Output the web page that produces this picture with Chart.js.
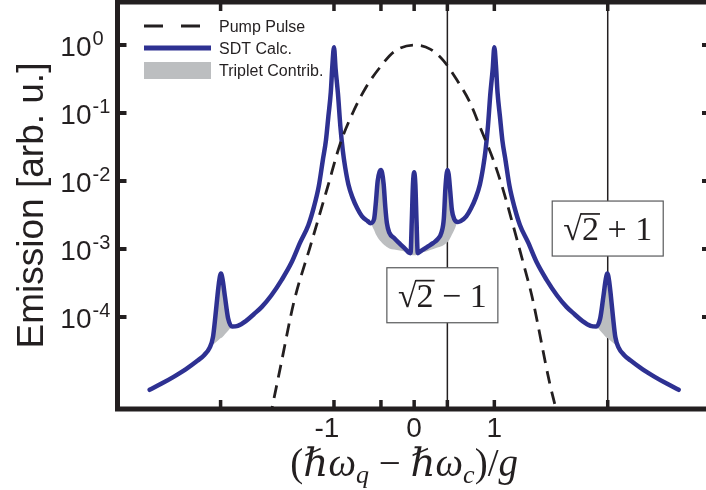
<!DOCTYPE html>
<html>
<head>
<meta charset="utf-8">
<script src="https://cdn.jsdelivr.net/npm/chart.js@4.4.1/dist/chart.umd.min.js"></script>
<style>
  html, body { margin: 0; padding: 0; background: #fff; overflow: hidden; }
  canvas { display: block; }
</style>
</head>
<body>
<canvas id="chart" width="706" height="490"></canvas>
<script>
// datos
const sdtX = [-3.30, -3.15, -3.00, -2.85, -2.70, -2.62, -2.55, -2.51, -2.48, -2.45, -2.43, -2.41, -2.39, -2.36, -2.32, -2.27,
  -2.20, -2.10, -2.00, -1.90, -1.78, -1.65, -1.53, -1.42, -1.32, -1.25, -1.19, -1.14, -1.10, -1.07, -1.04, -1.02,
  -1.00, -0.98, -0.95, -0.92, -0.89, -0.86, -0.82, -0.77, -0.71, -0.65, -0.58, -0.545, -0.50, -0.48, -0.455, -0.43,
  -0.415, -0.40, -0.38, -0.36, -0.34, -0.31, -0.25, -0.18, -0.11, -0.07, -0.045, -0.03, -0.015, 0,
  0.015, 0.03, 0.045, 0.07, 0.16, 0.24, 0.29, 0.34, 0.37, 0.39, 0.415, 0.43, 0.45, 0.47, 0.50, 0.545,
  0.58, 0.65, 0.71, 0.77, 0.82, 0.86, 0.89, 0.92, 0.95, 0.98, 1.00, 1.02, 1.04, 1.07, 1.10, 1.14, 1.19, 1.25,
  1.32, 1.42, 1.53, 1.65, 1.78, 1.90, 2.00, 2.10, 2.20, 2.27, 2.32, 2.36, 2.39, 2.41, 2.43, 2.45, 2.48, 2.51, 2.55, 2.62,
  2.70, 2.85, 3.00, 3.15, 3.30];

const sdtY = [8.5e-6, 1.05e-5, 1.32e-5, 1.70e-5, 2.29e-5, 2.75e-5, 3.55e-5, 5.0e-5, 1.0e-4, 2.24e-4, 3.5e-4, 4.37e-4, 3.6e-4, 2.0e-4, 9.5e-5, 7.24e-5,
  7.41e-5, 8.71e-5, 1.10e-4, 1.41e-4, 2.09e-4, 3.55e-4, 6.31e-4, 1.26e-3, 2.24e-3, 4.17e-3, 8.32e-3, 2.0e-2, 3.98e-2, 8.9e-2, 0.20, 0.50,
  0.93, 0.45, 0.19, 6.3e-2, 2.8e-2, 1.58e-2, 8.9e-3, 5.75e-3, 3.98e-3, 3.02e-3, 2.57e-3, 2.40e-3, 2.75e-3, 4.47e-3, 1.0e-2, 1.38e-2,
  1.45e-2, 1.32e-2, 8.9e-3, 4.17e-3, 2.40e-3, 1.74e-3, 1.45e-3, 1.20e-3, 1.0e-3, 8.9e-4, 8.7e-4, 2.5e-3, 8.9e-3, 1.35e-2,
  8.9e-3, 2.5e-3, 8.7e-4, 9.1e-4, 1.07e-3, 1.23e-3, 1.38e-3, 1.74e-3, 2.8e-3, 7.9e-3, 1.45e-2, 1.26e-2, 7.1e-3, 3.8e-3, 2.75e-3, 2.5e-3,
  2.57e-3, 3.02e-3, 3.98e-3, 5.75e-3, 8.9e-3, 1.58e-2, 2.8e-2, 6.3e-2, 0.19, 0.45, 0.93, 0.50, 0.20, 8.9e-2, 3.98e-2, 2.0e-2, 8.32e-3, 4.17e-3,
  2.24e-3, 1.26e-3, 6.31e-4, 3.55e-4, 2.09e-4, 1.41e-4, 1.10e-4, 8.71e-5, 7.41e-5, 7.24e-5, 9.5e-5, 2.0e-4, 3.6e-4, 4.37e-4, 3.5e-4, 2.24e-4, 1.0e-4, 5.0e-5, 3.55e-5, 2.75e-5,
  2.29e-5, 1.70e-5, 1.32e-5, 1.05e-5, 8.5e-6];

// sin contribucion de tripletes (borde inferior del area gris)
const noTripletY = [8.5e-6, 1.05e-5, 1.32e-5, 1.70e-5, 2.29e-5, 2.75e-5, 3.55e-5, 3.9e-5, 4.17e-5, 4.47e-5, 4.7e-5, 4.9e-5, 5.1e-5, 5.6e-5, 6.3e-5, 7.24e-5,
  7.41e-5, 8.71e-5, 1.10e-4, 1.41e-4, 2.09e-4, 3.55e-4, 6.31e-4, 1.26e-3, 2.24e-3, 4.17e-3, 8.32e-3, 2.0e-2, 3.98e-2, 8.9e-2, 0.20, 0.50,
  0.93, 0.45, 0.19, 6.3e-2, 2.8e-2, 1.58e-2, 8.9e-3, 5.75e-3, 3.98e-3, 3.02e-3, 2.57e-3, 2.40e-3, 1.9e-3, 1.66e-3, 1.48e-3, 1.35e-3,
  1.29e-3, 1.23e-3, 1.17e-3, 1.12e-3, 1.07e-3, 1.02e-3, 9.8e-4, 9.5e-4, 9.1e-4, 8.7e-4, 8.3e-4, 8.2e-4, 8.1e-4, 8.1e-4,
  8.1e-4, 8.2e-4, 8.3e-4, 8.7e-4, 9.3e-4, 1.0e-3, 1.05e-3, 1.1e-3, 1.15e-3, 1.2e-3, 1.26e-3, 1.32e-3, 1.45e-3, 1.62e-3, 1.9e-3, 2.5e-3,
  2.57e-3, 3.02e-3, 3.98e-3, 5.75e-3, 8.9e-3, 1.58e-2, 2.8e-2, 6.3e-2, 0.19, 0.45, 0.93, 0.50, 0.20, 8.9e-2, 3.98e-2, 2.0e-2, 8.32e-3, 4.17e-3,
  2.24e-3, 1.26e-3, 6.31e-4, 3.55e-4, 2.09e-4, 1.41e-4, 1.10e-4, 8.71e-5, 7.41e-5, 7.24e-5, 6.3e-5, 5.6e-5, 5.1e-5, 4.9e-5, 4.7e-5, 4.47e-5, 4.17e-5, 3.9e-5, 3.55e-5, 2.75e-5,
  2.29e-5, 1.70e-5, 1.32e-5, 1.05e-5, 8.5e-6];

const pumpX = [-1.80, -1.67, -1.50, -1.29, -1.08, -0.92, -0.75, -0.60, -0.42, -0.25, 0,
  0.20, 0.36, 0.53, 0.70, 0.82, 0.99, 1.11, 1.24, 1.36, 1.47, 1.69, 1.80];
const pumpY = [3.2e-6, 1.78e-5, 1.66e-4, 1.15e-3, 8.1e-3, 3.6e-2, 0.11, 0.24, 0.48, 0.80, 1.0,
  0.87, 0.60, 0.31, 0.14, 6.3e-2, 2.0e-2, 7.4e-3, 2.1e-3, 6.3e-4, 2.0e-4, 1.07e-5, 3.2e-6];

const xTickValues = [-2.4142, -1, -0.4142, 0, 0.4142, 1, 2.4142];
const xTickLabels = ['', '-1', '', '0', '', '1', ''];
const yTickValues = [1, 0.1, 0.01, 0.001, 0.0001];
const yTickExponents = ['0', '-1', '-2', '-3', '-4'];

const markerX = [0.4142, 2.4142];
const markerBoxY = [2.09e-4, 2.0e-3];
const markerSign = ['\u2212', '+'];

const legendLabels = ['Pump Pulse', 'SDT Calc.', 'Triplet Contrib.'];

//estilos
const ink = '#231f20';
const blue = '#2e3192';
const gray = '#bcbec0';
const sans = '"Liberation Sans", Arial, Helvetica, sans-serif';
const serif = '"Liberation Serif", "DejaVu Serif", serif';

function pts(xs, ys) {
  return xs.map((v, i) => ({ x: v, y: ys[i] }));
}

function drawSqrtLabel(ctx, cx, baseY, sign) {
  ctx.font = `34px ${serif}`;
  const wRad = ctx.measureText('\u221A').width;
  const wTwo = ctx.measureText('2').width;
  const rest = ' ' + sign + ' 1';
  const wRest = ctx.measureText(rest).width;
  const total = wRad + wTwo + wRest;
  let x0 = cx - total / 2;
  ctx.textAlign = 'left';
  ctx.textBaseline = 'alphabetic';
  ctx.fillText('\u221A', x0, baseY);
  const asc = ctx.measureText('\u221A').actualBoundingBoxAscent;
  ctx.fillText('2', x0 + wRad, baseY);
  ctx.fillText(rest, x0 + wRad + wTwo, baseY);
  ctx.lineWidth = 1.7;
  ctx.beginPath();
  ctx.moveTo(x0 + wRad - 1, baseY - asc + 0.9);
  ctx.lineTo(x0 + wRad + wTwo + 1, baseY - asc + 0.9);
  ctx.stroke();
}

const decorations = {
  id: 'decorations',
  beforeDatasetsDraw(chart) {
    const { ctx, chartArea: a, scales: { x } } = chart;
    ctx.save();
    ctx.strokeStyle = ink;
    ctx.lineWidth = 1.5;
    markerX.forEach(v => {
      const px = x.getPixelForValue(v);
      ctx.beginPath();
      ctx.moveTo(px, a.top);
      ctx.lineTo(px, a.bottom);
      ctx.stroke();
    });
    ctx.restore();
  },
  afterDatasetsDraw(chart) {
    const { ctx, chartArea: a, scales: { x, y } } = chart;
    ctx.save();
    ctx.strokeStyle = ink;
    ctx.fillStyle = ink;

    // cajas de los marcadores
    markerX.forEach((v, i) => {
      const cx = x.getPixelForValue(v) + (i === 0 ? -5 : 0);
      const cy = y.getPixelForValue(markerBoxY[i]);
      ctx.fillStyle = '#fff';
      ctx.strokeStyle = '#58595b';
      ctx.lineWidth = 1.2;
      ctx.fillRect(cx - 55.5, cy - 27.5, 111, 55);
      ctx.strokeRect(cx - 55.5, cy - 27.5, 111, 55);
      ctx.fillStyle = ink;
      ctx.strokeStyle = ink;
      drawSqrtLabel(ctx, cx, cy + 11.5, markerSign[i]);
    });

    // ejes
    ctx.lineWidth = 5;
    ctx.lineCap = 'butt';
    ctx.beginPath();
    ctx.moveTo(a.left, a.top - 2.5);
    ctx.lineTo(a.left, a.bottom + 2.5);
    ctx.moveTo(a.left - 2.5, a.bottom);
    ctx.lineTo(a.right, a.bottom);
    ctx.moveTo(a.left - 2.5, a.top);
    ctx.lineTo(a.right, a.top);
    ctx.stroke();

    // marcas
    ctx.lineWidth = 3.5;
    xTickValues.forEach(v => {
      const px = x.getPixelForValue(v);
      ctx.beginPath();
      ctx.moveTo(px, a.bottom);
      ctx.lineTo(px, a.bottom - 9);
      ctx.moveTo(px, a.top);
      ctx.lineTo(px, a.top + 9);
      ctx.stroke();
    });
    ctx.lineWidth = 4;
    yTickValues.forEach(v => {
      const py = y.getPixelForValue(v);
      ctx.beginPath();
      ctx.moveTo(a.left, py);
      ctx.lineTo(a.left + 9, py);
      ctx.moveTo(a.right, py);
      ctx.lineTo(a.right - 4, py);
      ctx.stroke();
    });

    // etiquetas eje x
    ctx.font = `28px ${sans}`;
    ctx.textAlign = 'center';
    ctx.textBaseline = 'alphabetic';
    xTickValues.forEach((v, i) => {
      const lbl = xTickLabels[i];
      if (!lbl) return;
      const px = x.getPixelForValue(v) - (lbl.startsWith('-') ? 7 : 0);
      ctx.fillText(lbl, px, a.bottom + 28);
    });

    // etiquetas eje y (10 con exponente)
    yTickValues.forEach((v, i) => {
      const py = y.getPixelForValue(v);
      ctx.font = `28px ${sans}`;
      ctx.textAlign = 'right';
      ctx.fillText('10', a.left - 26, py + 11);
      ctx.font = `20px ${sans}`;
      ctx.textAlign = 'left';
      ctx.fillText(yTickExponents[i], a.left - 25, py);
    });

    // titulo eje y
    ctx.save();
    ctx.translate(a.left - 74.5, (a.top + a.bottom) / 2);
    ctx.rotate(-Math.PI / 2);
    ctx.font = `37px ${sans}`;
    ctx.textAlign = 'center';
    ctx.fillText('Emission [arb. u.]', 0, 0);
    ctx.restore();

    // titulo eje x
    const up = `39px ${serif}`, it = `italic 39px ${serif}`, sub = `italic 26px ${serif}`;
    const parts = [['(', up, 0], ['\u210F\u03C9', it, 0], ['q', sub, 7], [' \u2212 ', up, 0],
      ['\u210F\u03C9', it, 0], ['c', sub, 7], [')/', up, 0], ['g', it, 0]];
    let total = 0;
    parts.forEach(p => { ctx.font = p[1]; total += ctx.measureText(p[0]).width; });
    let tx = x.getPixelForValue(0) - 10 - total / 2;
    const tb = a.bottom + 67;
    ctx.textAlign = 'left';
    parts.forEach(p => {
      ctx.font = p[1];
      ctx.fillText(p[0], tx, tb + p[2]);
      tx += ctx.measureText(p[0]).width;
    });

    // leyenda
    const lx = a.left + 26.5;
    ctx.lineWidth = 2.8;
    ctx.setLineDash([19, 18]);
    ctx.beginPath();
    ctx.moveTo(lx, 26);
    ctx.lineTo(lx + 58, 26);
    ctx.stroke();
    ctx.setLineDash([]);
    ctx.strokeStyle = blue;
    ctx.lineWidth = 5;
    ctx.beginPath();
    ctx.moveTo(lx, 48);
    ctx.lineTo(lx + 67, 48);
    ctx.stroke();
    ctx.fillStyle = gray;
    ctx.fillRect(lx, 62, 67, 17);
    ctx.fillStyle = ink;
    ctx.font = `16px ${sans}`;
    ctx.textAlign = 'left';
    legendLabels.forEach((t, i) => ctx.fillText(t, lx + 75, 32 + i * 22));

    ctx.restore();
  }
};

new Chart(document.getElementById('chart'), {
  type: 'line',
  data: {
    datasets: [{
      label: 'Pump Pulse',
      data: pts(pumpX, pumpY),
      borderColor: ink,
      borderWidth: 2.8,
      borderDash: [13, 8],
      pointRadius: 0,
      cubicInterpolationMode: 'monotone',
      fill: false
    }, {
      label: 'SDT Calc.',
      data: pts(sdtX, sdtY),
      borderColor: blue,
      borderWidth: 4.5,
      borderJoinStyle: 'round',
      borderCapStyle: 'round',
      pointRadius: 0,
      cubicInterpolationMode: 'monotone',
      backgroundColor: gray,
      fill: '+1'
    }, {
      label: 'Triplet Contrib.',
      data: pts(sdtX, noTripletY),
      borderColor: gray,
      borderWidth: 0,
      pointRadius: 0,
      cubicInterpolationMode: 'monotone',
      fill: false
    }]
  },
  options: {
    responsive: false,
    animation: false,
    devicePixelRatio: 1,
    layout: { padding: { left: 117.5, top: 2, right: 0, bottom: 81 } },
    plugins: { legend: { display: false }, tooltip: { enabled: false } },
    scales: {
      x: { type: 'linear', display: false, min: -3.7, max: 3.64 },
      y: { type: 'logarithmic', display: false, min: 4.44e-6, max: 4.29 }
    }
  },
  plugins: [decorations]
});
</script>
</body>
</html>
